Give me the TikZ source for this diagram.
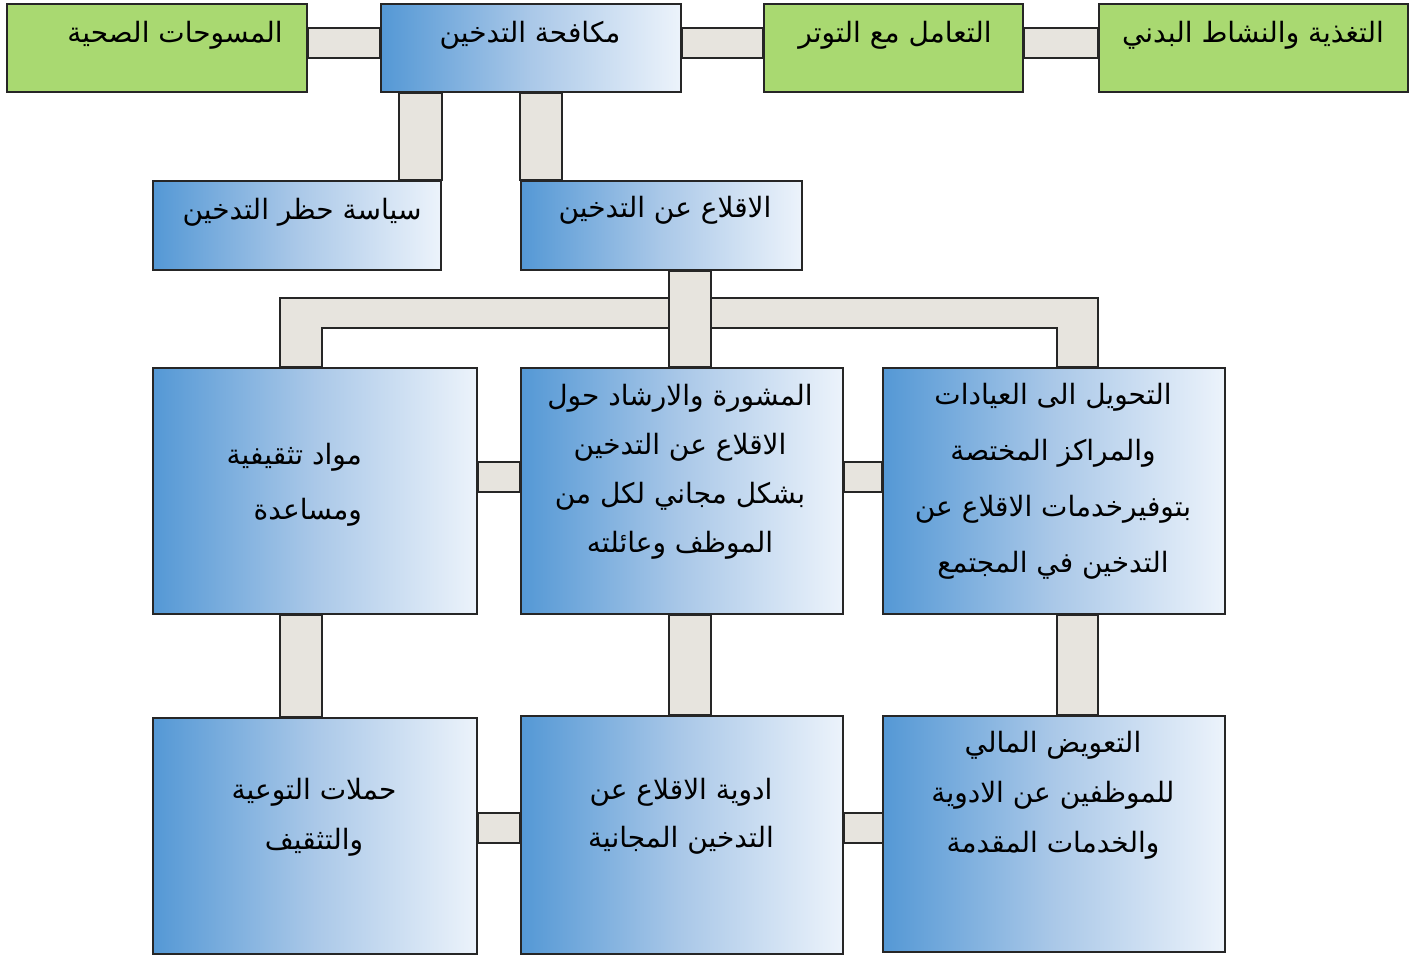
\documentclass[tikz,border=0pt]{standalone}
\usepackage{fontspec}
\usetikzlibrary{calc}
\newfontfamily\arabicfont[Script=Arabic]{DejaVu Sans}
\TeXXeTstate=1
\pgfdeclarelayer{bg}
\pgfsetlayers{bg,main}
\definecolor{gfill}{RGB}{169,217,113}
\definecolor{bleft}{RGB}{84,152,213}
\definecolor{bmid}{RGB}{170,200,232}
\definecolor{bright}{RGB}{236,243,251}
\definecolor{cfill}{RGB}{231,228,222}
\tikzset{
  boxbase/.style={draw=black!85, line width=1.7pt, inner sep=0pt, anchor=north west},
  greenbox/.style={boxbase, fill=gfill},
  bluebox/.style={boxbase, left color=bleft, right color=bright, middle color=bmid},
  conn/.style={draw=black!85, line width=1.7pt, fill=cfill},
  txt/.style={font=\arabicfont\fontsize{28}{#1}\selectfont, align=center, inner sep=0pt, text=black},
  txt/.default=32
}
\begin{document}
\begin{tikzpicture}[x=1pt,y=-1pt]
\useasboundingbox (0,0) rectangle (1413,955);
% boxes
\node[greenbox, minimum width=300pt, minimum height=88pt] (gSurv) at (6,3) {};
\node[bluebox, minimum width=300pt, minimum height=88pt] (bMain) at (380,3) {};
\node[greenbox, minimum width=259pt, minimum height=88pt] (gStress) at (763,3) {};
\node[greenbox, minimum width=309pt, minimum height=88pt] (gNutr) at (1098,3) {};
\node[bluebox, minimum width=288pt, minimum height=89pt] (bBan) at (152,180) {};
\node[bluebox, minimum width=281pt, minimum height=89pt] (bQuit) at (520,180) {};
\node[bluebox, minimum width=324pt, minimum height=246pt] (bEdu) at (152,367) {};
\node[bluebox, minimum width=322pt, minimum height=246pt] (bCoun) at (520,367) {};
\node[bluebox, minimum width=342pt, minimum height=246pt] (bRef) at (882,367) {};
\node[bluebox, minimum width=324pt, minimum height=236pt] (bCamp) at (152,717) {};
\node[bluebox, minimum width=322pt, minimum height=238pt] (bMed) at (520,715) {};
\node[bluebox, minimum width=342pt, minimum height=236pt] (bComp) at (882,715) {};
% texts
\node[txt] (t1) at (175,35) {\beginR المسوحات الصحية\endR};
\node[txt] (t0) at (530,35) {\beginR مكافحة التدخين\endR};
\node[txt] (t3) at (895,35) {\beginR التعامل مع التوتر\endR};
\node[txt] (t4) at (1253,35) {\beginR التغذية والنشاط البدني\endR};
\node[txt] (t5) at (302,212) {\beginR سياسة حظر التدخين\endR};
\node[txt] (t6) at (665,210) {\beginR الاقلاع عن التدخين\endR};
\node[txt=55, align=right, anchor=east] (t7) at (362,485) {\beginR مواد تثقيفية\endR\\\beginR ومساعدة\endR};
\node[txt=49] (t8) at (680,472) {\beginR المشورة والارشاد حول\endR\\\beginR الاقلاع عن التدخين\endR\\\beginR بشكل مجاني لكل من\endR\\\beginR الموظف وعائلته\endR};
\node[txt=56] (t9) at (1053,481) {\beginR التحويل الى العيادات\endR\\\beginR والمراكز المختصة\endR\\\beginR بتوفيرخدمات الاقلاع عن\endR\\\beginR التدخين في المجتمع\endR};
\node[txt=50] (t10) at (314,817) {\beginR حملات التوعية\endR\\\beginR والتثقيف\endR};
\node[txt=48] (t11) at (681,816) {\beginR ادوية الاقلاع عن\endR\\\beginR التدخين المجانية\endR};
\node[txt=50] (t12) at (1053,795) {\beginR التعويض المالي\endR\\\beginR للموظفين عن الادوية\endR\\\beginR والخدمات المقدمة\endR};
% connectors
\begin{pgfonlayer}{bg}
\draw[conn] ($(gSurv.north east)+(0,25)$) rectangle ($(bMain.north west)+(0,55)$);
\draw[conn] ($(bMain.north east)+(0,25)$) rectangle ($(gStress.north west)+(0,55)$);
\draw[conn] ($(gStress.north east)+(0,25)$) rectangle ($(gNutr.north west)+(0,55)$);
\draw[conn] ($(bMain.south west)+(19,0)$) rectangle (bBan.north east);
\draw[conn] ($(bMain.south west)+(140,0)$) rectangle ($(bQuit.north west)+(42,0)$);
\draw[conn] ($(bEdu.north west)+(128,0)$) -- ++(0,-69) -| ($(bRef.north west)+(216,0)$) -- ++(-41,0) |- ($(bEdu.north west)+(170,-39)$) -- ($(bEdu.north west)+(170,0)$) -- cycle;
\draw[conn] ($(bQuit.south west)+(149,0)$) rectangle ($(bCoun.north west)+(191,0)$);
\draw[conn] ($(bEdu.north east)+(0,95)$) rectangle ($(bCoun.north west)+(0,125)$);
\draw[conn] ($(bCoun.north east)+(0,95)$) rectangle ($(bRef.north west)+(0,125)$);
\draw[conn] ($(bEdu.south west)+(128,0)$) rectangle ($(bCamp.north west)+(170,0)$);
\draw[conn] ($(bCoun.south west)+(149,0)$) rectangle ($(bMed.north west)+(191,0)$);
\draw[conn] ($(bRef.south west)+(175,0)$) rectangle ($(bComp.north west)+(216,0)$);
\draw[conn] ($(bCamp.north east)+(0,96)$) rectangle ($(bMed.north west)+(0,128)$);
\draw[conn] ($(bMed.north east)+(0,98)$) rectangle ($(bComp.north west)+(2,128)$);
\end{pgfonlayer}
\end{tikzpicture}
\end{document}
